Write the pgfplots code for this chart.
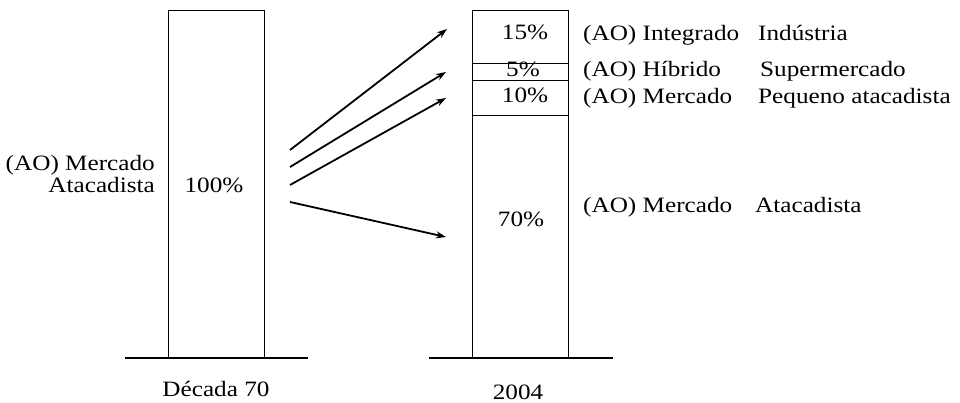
\documentclass[border=0pt]{standalone}
\usepackage{pgfplots}
\pgfplotsset{compat=1.18}
\usepackage{fontspec}
\setmainfont{Liberation Serif}
\newfontfamily\lblfont{Liberation Serif}[FakeStretch=1.15]
\usetikzlibrary{arrows.meta}
\tikzset{lbl/.style={font=\lblfont\fontsize{22}{24}\selectfont, inner sep=0pt},
  arr/.style={line width=1.8bp, -{Stealth[length=10bp,width=7bp]}}}
\begin{document}
\begin{tikzpicture}
\begin{axis}[
  scale only axis, width=960bp, height=403bp,
  xmin=-0.71217, xmax=2.44572, ymin=-12.968, ymax=103.170,
  hide axis, clip=false,
  ybar stacked, bar width=96bp,
]
\path (rel axis cs:0,0) rectangle (rel axis cs:1,1);
% Decada 70: 100% ; 2004: 70, 10, 5, 15
\addplot[fill=none, draw=black, line width=1bp] coordinates {(0,100) (1,70)};
\addplot[fill=none, draw=black, line width=1bp] coordinates {(0,0) (1,10)};
\addplot[fill=none, draw=black, line width=1bp] coordinates {(0,0) (1,5)};
\addplot[fill=none, draw=black, line width=1bp] coordinates {(0,0) (1,15)};
\draw[line width=1.3bp] (axis cs:-0.301,0) -- (axis cs:0.301,0);
\draw[line width=1.3bp] (axis cs:0.699,0) -- (axis cs:1.304,0);
% arrows
\draw[arr] (axis cs:0.2418,59.94) -- (axis cs:0.7582,94.81);
\draw[arr] (axis cs:0.2418,55.04) -- (axis cs:0.7549,82.42);
\draw[arr] (axis cs:0.2418,49.86) -- (axis cs:0.7549,74.93);
\draw[arr] (axis cs:0.2418,44.96) -- (axis cs:0.7549,34.87);
% texts
\node[lbl, anchor=base] at (rel axis cs:0.22292,0.52109) {100\%};
\node[lbl, anchor=base east] at (rel axis cs:0.16146,0.57816) {(AO) Mercado};
\node[lbl, anchor=base east] at (rel axis cs:0.16146,0.52109) {Atacadista};
\node[lbl, anchor=base] at (rel axis cs:0.225,0.01737) {Década 70};
\node[lbl, anchor=base] at (rel axis cs:0.53958,0.00744) {2004};
\node[lbl, anchor=base] at (rel axis cs:0.54688,0.90074) {15\%};
\node[lbl, anchor=base] at (rel axis cs:0.54479,0.80893) {5\%};
\node[lbl, anchor=base] at (rel axis cs:0.54688,0.74442) {10\%};
\node[lbl, anchor=base] at (rel axis cs:0.54271,0.43672) {70\%};
\node[lbl, anchor=base west] at (rel axis cs:0.60729,0.89826) {(AO) Integrado};
\node[lbl, anchor=base west] at (rel axis cs:0.78958,0.89826) {Indústria};
\node[lbl, anchor=base west] at (rel axis cs:0.60729,0.80893) {(AO) Híbrido};
\node[lbl, anchor=base west] at (rel axis cs:0.79167,0.80893) {Supermercado};
\node[lbl, anchor=base west] at (rel axis cs:0.60729,0.74194) {(AO) Mercado};
\node[lbl, anchor=base west] at (rel axis cs:0.78958,0.74194) {Pequeno atacadista};
\node[lbl, anchor=base west] at (rel axis cs:0.60729,0.47146) {(AO) Mercado};
\node[lbl, anchor=base west] at (rel axis cs:0.78646,0.47146) {Atacadista};
\end{axis}
\end{tikzpicture}
\end{document}
